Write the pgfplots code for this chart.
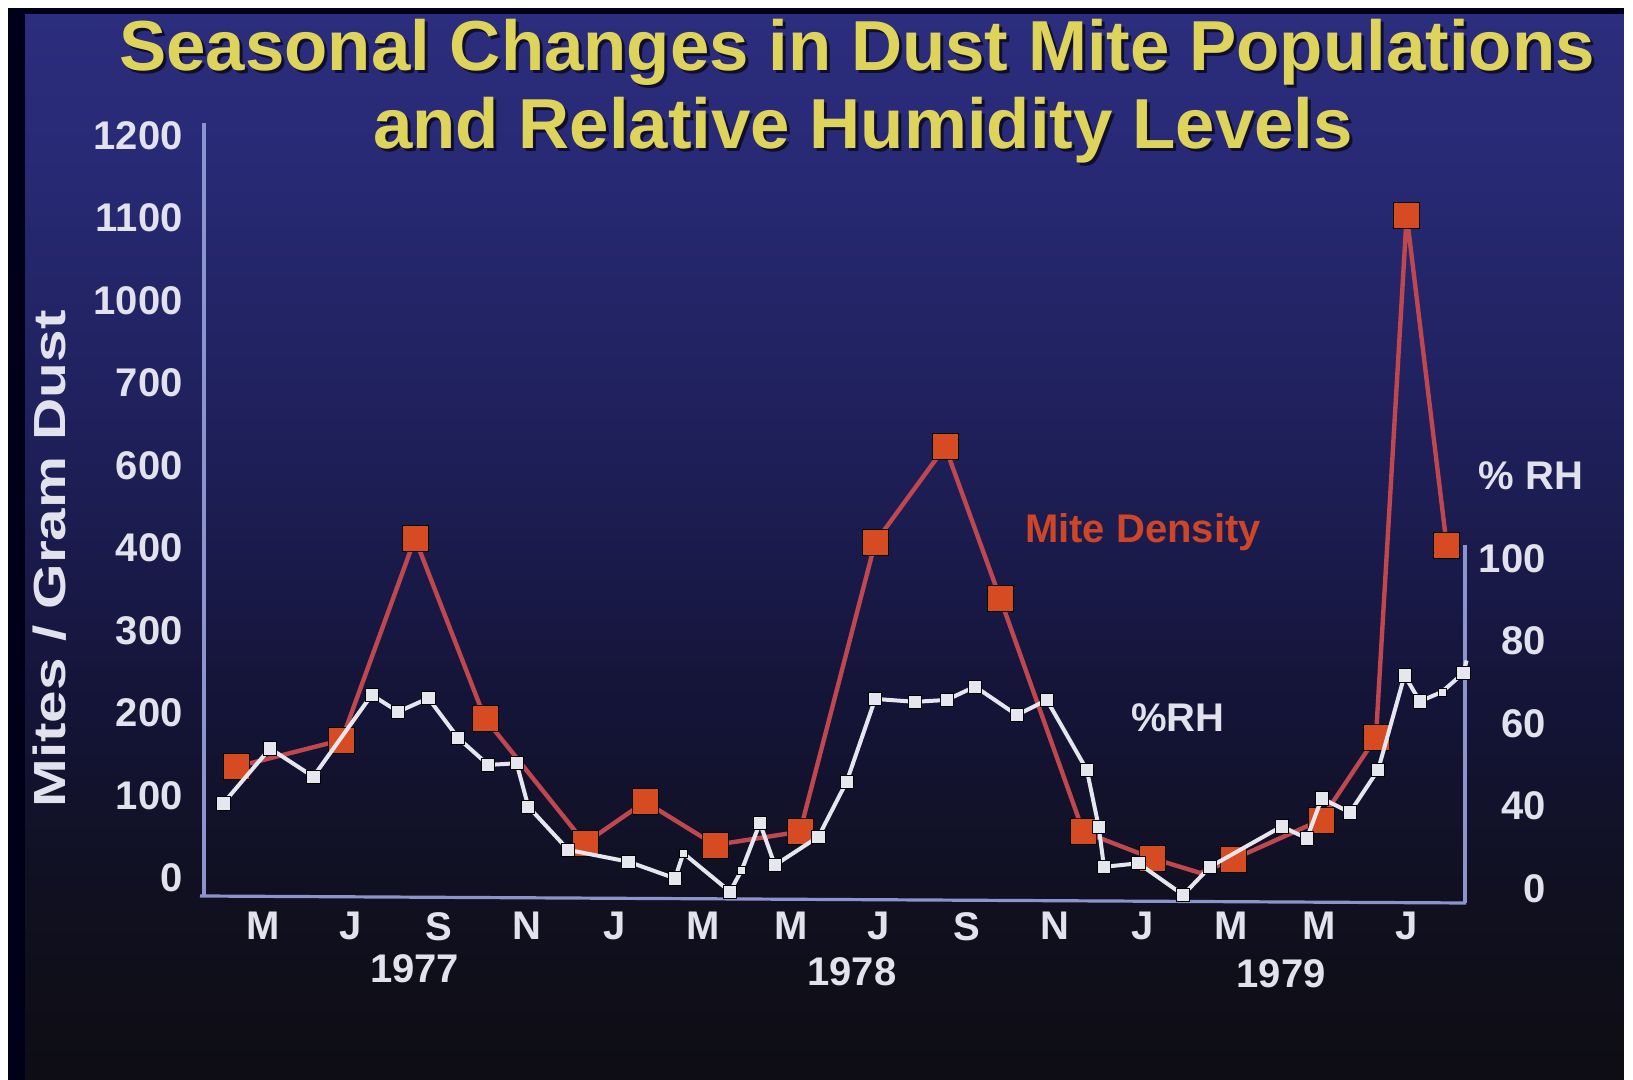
\documentclass[border=0pt]{standalone}
\usepackage{fontspec}
\setmainfont{Liberation Sans}
\usepackage{graphicx}
\usepackage{pgfplots}
\pgfplotsset{compat=1.18}
\definecolor{bg0}{RGB}{14,13,20}
\definecolor{bg1}{RGB}{16,16,32}
\definecolor{bg2}{RGB}{20,20,56}
\definecolor{bg3}{RGB}{30,31,88}
\definecolor{bg4}{RGB}{40,42,118}
\definecolor{bg5}{RGB}{44,46,126}
\definecolor{titleyellow}{RGB}{222,212,92}
\definecolor{titleshadow}{RGB}{15,15,45}
\definecolor{ticktext}{RGB}{226,226,236}
\definecolor{axiscol}{RGB}{140,148,205}
\definecolor{redline}{RGB}{190,72,78}
\definecolor{redmark}{RGB}{215,75,35}
\definecolor{mitered}{RGB}{205,70,40}
\definecolor{rhwhite}{RGB}{230,230,238}
\pgfdeclareverticalshading{bgshade}{100bp}{color(0bp)=(bg0); color(25bp)=(bg0); color(33.3bp)=(bg1); color(42.5bp)=(bg2); color(54bp)=(bg3); color(68bp)=(bg4); color(75bp)=(bg5); color(100bp)=(bg5)}
\pgfplotstableread{
m idx
4.41 1.347
6.795 1.671
8.461 4.117
10.05 1.934
12.325 0.418
13.689 0.923
15.28 0.398
17.21 0.559
18.92 4.066
20.51 5.228
21.76 3.390
23.65 0.559
25.23 0.234
26.31 0.058
27.07 0.228
29.05 0.701
30.30 1.701
31.0 8.033
31.91 4.026
}\mitetable
\pgfplotstableread{
m idx
4.41 1.347
6.795 1.671
8.461 4.117
10.05 1.934
12.325 0.418
13.689 0.923
15.28 0.398
17.21 0.559
18.92 4.066
20.51 5.228
21.76 3.390
23.65 0.559
25.23 0.234
27.07 0.228
29.05 0.701
30.30 1.701
31.0 8.033
31.91 4.026
}\mitemarks
\pgfplotstableread{
m rh
4.105 40.6
5.166 53.9
6.15 47.05
7.477 66.86
8.08 62.8
8.764 66.06
9.445 56.4
10.127 49.9
10.77 50.3
11.036 39.8
11.945 29.3
13.31 26.45
14.37 22.4
14.56 28.5
15.62 19.2
15.886 24.4
16.30 35.8
16.64 25.6
17.63 32.5
18.27 45.8
18.92 65.9
19.825 65.2
20.545 65.65
21.19 68.9
22.14 62.0
22.82 65.65
23.73 48.7
24.0 34.9
24.12 25.2
24.90 26.06
25.92 18.4
26.53 25.2
28.16 35.0
28.73 32.1
29.07 41.8
29.71 38.4
30.35 48.7
30.95 71.6
31.3 65.3
31.8 67.6
32.29 72.2
32.36 75.2
}\rhtable
\pgfplotstableread{
m rh
4.105 40.6
5.166 53.9
6.15 47.05
7.477 66.86
8.08 62.8
8.764 66.06
9.445 56.4
10.127 49.9
10.77 50.3
11.036 39.8
11.945 29.3
13.31 26.45
14.37 22.4
15.62 19.2
16.30 35.8
16.64 25.6
17.63 32.5
18.27 45.8
18.92 65.9
19.825 65.2
20.545 65.65
21.19 68.9
22.14 62.0
22.82 65.65
23.73 48.7
24.0 34.9
24.12 25.2
24.90 26.06
25.92 18.4
26.53 25.2
28.16 35.0
28.73 32.1
29.07 41.8
29.71 38.4
30.35 48.7
30.95 71.6
31.3 65.3
32.29 72.2
}\rhmarks
\pgfplotstableread{
m rh
14.56 28.5
15.886 24.4
31.8 67.6
}\rhsmall
\begin{document}
\begin{tikzpicture}
\begin{scope}[x=0.5pt,y=0.5pt]
\fill[shading=bgshade] (0,0) rectangle (1633,1080);
\fill[black!90!blue] (8,0) rectangle (25,1072);
\fill[black!90!blue] (0,1066) rectangle (1633,1072);
\fill[white] (0,0) rectangle (8,1080);
\fill[white] (0,1072) rectangle (1633,1080);
\fill[white] (1624,0) rectangle (1633,1080);
\draw[axiscol, line width=1.6pt] (204,957) -- (204,185);
\draw[axiscol, line width=1.6pt] (200,184) -- (1466,177);
\draw[axiscol, line width=1.6pt] (1465,177) -- (1465,535);
\end{scope}
\begin{axis}[
  at={(102pt,91pt)}, anchor=south west,
  scale only axis, width=630.5pt, height=387.5pt,
  xmin=3.666, xmax=32.325, ymin=-0.245, ymax=9.153,
  axis line style={draw=none}, tick style={draw=none},
  xtick pos=bottom, ytick pos=left,
  xtick={5,7,9,11,13,15,17,19,21,23,25,27,29,31},
  xticklabels={M,J,S,N,J,M,M,J,S,N,J,M,M,J},
  ytick={0,1,2,3,4,5,6,7,8,9},
  yticklabels={0,100,200,300,400,600,700,1000,1100,1200},
  ticklabel style={font=\bfseries\fontsize{20}{24}\selectfont, text=ticktext, inner sep=0pt},
  xticklabel style={anchor=north, yshift=-7pt},
  yticklabel style={anchor=east, xshift=-10.5pt},
  clip=false,
]
\addplot[color=redline, line width=2.2pt, no marks] table[x=m, y=idx] {\mitetable};
\addplot[only marks, mark=square*, mark size=6.5pt, mark options={fill=redmark, draw=none}] table[x=m, y=idx] {\mitemarks};
\end{axis}
\begin{axis}[
  at={(102pt,91pt)}, anchor=south west,
  scale only axis, width=630.5pt, height=387.5pt,
  xmin=3.666, xmax=32.325, ymin=17.65, ymax=205.5,
  axis line style={draw=none}, tick style={draw=none},
  xtick=\empty,
  ytick pos=right, yticklabel pos=right,
  ytick={20,40,60,80,100},
  yticklabels={0,40,60,80,100},
  ticklabel style={font=\bfseries\fontsize{20}{24}\selectfont, text=ticktext, inner sep=0pt},
  yticklabel style={anchor=east, xshift=40.5pt},
  clip=false,
]
\addplot[color=rhwhite, line width=2pt, no marks] table[x=m, y=rh] {\rhtable};
\addplot[only marks, mark=square*, mark size=3.3pt, mark options={fill=rhwhite, draw=none}] table[x=m, y=rh] {\rhmarks};
\addplot[only marks, mark=square*, mark size=2pt, mark options={fill=rhwhite, draw=none}] table[x=m, y=rh] {\rhsmall};
\end{axis}
\begin{scope}[x=0.5pt,y=0.5pt]
\node[anchor=base, font=\bfseries\fontsize{35.4}{42}\selectfont, text=titleshadow] at (860,1006) {Seasonal Changes in Dust Mite Populations};
\node[anchor=base, font=\bfseries\fontsize{35.4}{42}\selectfont, text=titleyellow] at (857,1009) {Seasonal Changes in Dust Mite Populations};
\node[anchor=base, font=\bfseries\fontsize{35.4}{42}\selectfont, text=titleshadow] at (866,928) {and Relative Humidity Levels};
\node[anchor=base, font=\bfseries\fontsize{35.4}{42}\selectfont, text=titleyellow] at (863,931) {and Relative Humidity Levels};
\node[anchor=base, font=\bfseries\fontsize{20}{24}\selectfont, text=mitered] at (1143,537) {Mite Density};
\node[anchor=base, font=\bfseries\fontsize{20}{24}\selectfont, text=ticktext] at (1178,348) {\%RH};
\node[anchor=base, font=\bfseries\fontsize{20}{24}\selectfont, text=ticktext] at (1531,590) {\% RH};
\node[anchor=base, font=\bfseries\fontsize{20}{24}\selectfont, text=ticktext] at (414.6,97) {1977};
\node[anchor=base, font=\bfseries\fontsize{20}{24}\selectfont, text=ticktext] at (852,94) {1978};
\node[anchor=base, font=\bfseries\fontsize{20}{24}\selectfont, text=ticktext] at (1281,92) {1979};
\node[rotate=90, font=\bfseries\fontsize{22.5}{27}\selectfont, text=ticktext] at (50,521) {\scalebox{1.3}[1]{Mites / Gram Dust}};
\end{scope}
\end{tikzpicture}
\end{document}
